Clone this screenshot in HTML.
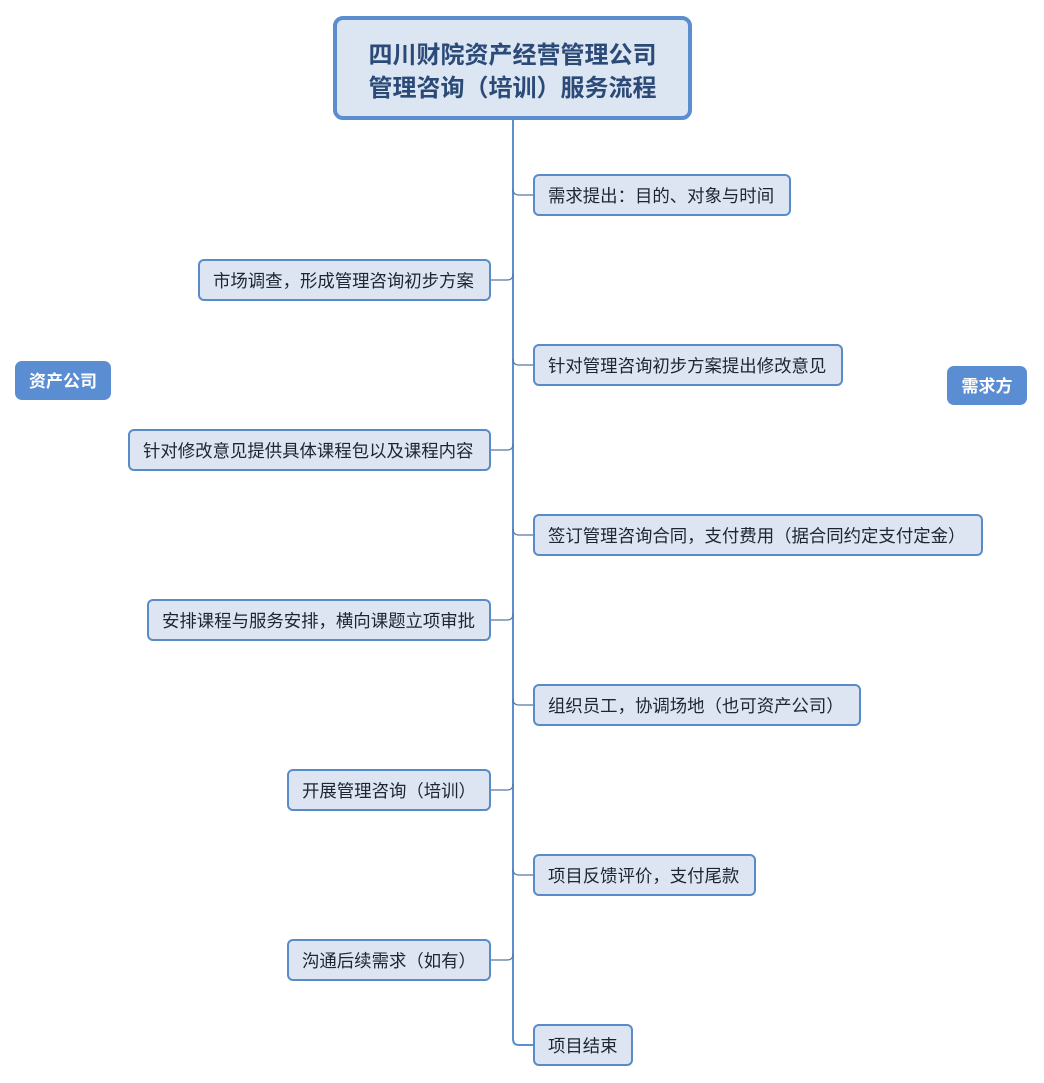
<!DOCTYPE html>
<html>
<head>
<meta charset="utf-8">
<style>
  html,body{margin:0;padding:0;background:#fff;}
  body{width:1044px;height:1083px;position:relative;overflow:hidden;
    font-family:"Liberation Sans","Noto Sans CJK SC","WenQuanYi Zen Hei",sans-serif;}
  .title{position:absolute;left:333px;top:16px;width:359px;height:104px;box-sizing:border-box;
    border:4px solid #5b8dcf;border-radius:10px;background:#dce6f2;padding-top:7px;
    color:#2c4a78;font-weight:bold;font-size:24px;line-height:33px;text-align:center;
    display:flex;flex-direction:column;justify-content:center;}
  .b{position:absolute;height:42px;box-sizing:border-box;border:2px solid #5a8bc9;border-radius:6px;
    background:#dce5f1;color:#1d2433;font-size:17.4px;line-height:40px;padding-left:13px;white-space:nowrap;}
  .lab{position:absolute;height:39px;box-sizing:border-box;border-radius:7px;background:#5a8dd2;
    color:#fff;font-weight:bold;font-size:17px;line-height:41px;text-align:center;}
  svg{position:absolute;left:0;top:0;}
</style>
</head>
<body>
<svg width="1044" height="1083">
  <path d="M513,120 L513,1039 Q513,1045 519,1045 L533,1045" fill="none" stroke="#5b8fd0" stroke-width="2"/>
  <g fill="none" stroke="#56799f" stroke-width="1.2">
    <path d="M513,189 Q513,195 519,195 L533,195"/>
    <path d="M513,359 Q513,365 519,365 L533,365"/>
    <path d="M513,529 Q513,535 519,535 L533,535"/>
    <path d="M513,699 Q513,705 519,705 L533,705"/>
    <path d="M513,869 Q513,875 519,875 L533,875"/>
    <path d="M491,280 L507,280 Q513,280 513,274"/>
    <path d="M491,450 L507,450 Q513,450 513,444"/>
    <path d="M491,620 L507,620 Q513,620 513,614"/>
    <path d="M491,790 L507,790 Q513,790 513,784"/>
    <path d="M491,960 L507,960 Q513,960 513,954"/>
  </g>
</svg>

<div class="title"><div>四川财院资产经营管理公司</div><div>管理咨询（培训）服务流程</div></div>

<div class="lab" style="left:15px;top:361px;width:96px;">资产公司</div>
<div class="lab" style="left:947px;top:366px;width:80px;">需求方</div>

<div class="b" style="left:533px;top:174px;width:258px;">需求提出：目的、对象与时间</div>
<div class="b" style="left:533px;top:344px;width:310px;">针对管理咨询初步方案提出修改意见</div>
<div class="b" style="left:533px;top:514px;width:450px;">签订管理咨询合同，支付费用（据合同约定支付定金）</div>
<div class="b" style="left:533px;top:684px;width:328px;">组织员工，协调场地（也可资产公司）</div>
<div class="b" style="left:533px;top:854px;width:223px;">项目反馈评价，支付尾款</div>
<div class="b" style="left:533px;top:1024px;width:100px;">项目结束</div>

<div class="b" style="left:198px;top:259px;width:293px;">市场调查，形成管理咨询初步方案</div>
<div class="b" style="left:128px;top:429px;width:363px;">针对修改意见提供具体课程包以及课程内容</div>
<div class="b" style="left:147px;top:599px;width:344px;">安排课程与服务安排，横向课题立项审批</div>
<div class="b" style="left:287px;top:769px;width:204px;">开展管理咨询（培训）</div>
<div class="b" style="left:287px;top:939px;width:204px;">沟通后续需求（如有）</div>
</body>
</html>
